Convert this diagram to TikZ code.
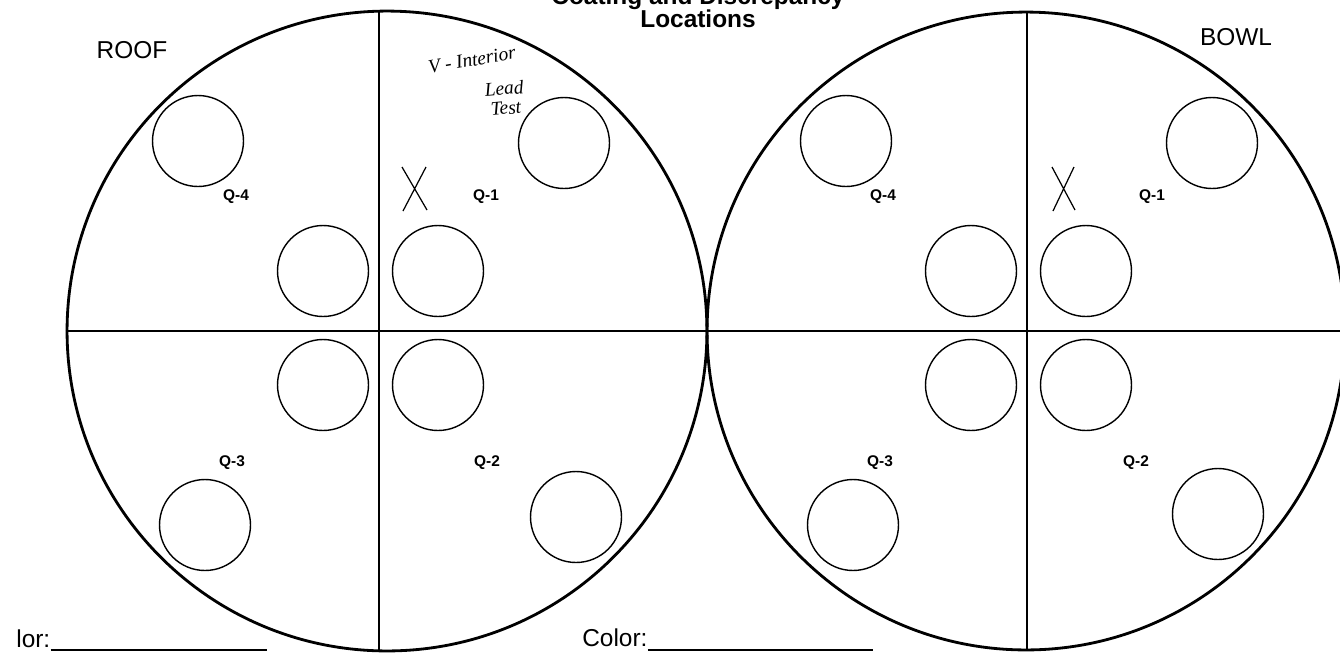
\documentclass[tikz,border=0pt]{standalone}
\usepackage{fontspec}
\setmainfont{Liberation Sans}
\newfontfamily\handfont{Liberation Serif}
\begin{document}
\begin{tikzpicture}[x=0.02cm, y=-0.02cm,
  disc/.style={circle, draw, line width=1.6pt, inner sep=0pt, minimum size=#1},
  hole/.style={circle, draw, line width=0.8pt, inner sep=0pt, minimum size=1.82cm},
  quad/.style={font=\bfseries\fontsize{8.8}{10}\selectfont, inner sep=0pt},
  big/.style={font=\fontsize{13.9}{16}\selectfont, inner sep=0pt},
  heading/.style={font=\bfseries\fontsize{13.9}{16}\selectfont, inner sep=0pt, anchor=base},
  hand/.style={font=\handfont\itshape\fontsize{11}{11}\selectfont, inner sep=0pt}]
  \useasboundingbox (0,0) rectangle (1340,664);
  \clip (0,0) rectangle (1340,664);
  % the two plates
  \node[disc=12.8cm] (roof) at (387,331) {};
  \node[disc=12.76cm] (bowl) at (1026,331) {};
  % quadrant lines
  \coordinate (roofT) at (379,11);  \coordinate (roofB) at (379,651);
  \coordinate (bowlT) at (1027,12); \coordinate (bowlB) at (1027,650);
  \draw[line width=1.1pt] (roofT) -- (roofB);
  \draw[line width=1.1pt] (bowlT) -- (bowlB);
  \draw[line width=1.1pt] (roof.west) -- (bowl.east);
  % holes
  \foreach \n/\x/\y in {ra/198/141, rb/564/143, rc/323/271, rd/438/271,
                        re/323/385, rf/438/385, rg/205/525, rh/576/517,
                        ba/846/141, bb/1212/143, bc/971/271, bd/1086/271,
                        be/971/385, bf/1086/385, bg/853/525, bh/1218/514}
    \node[hole] (h-\n) at (\x,\y) {};
  % quadrant labels
  \foreach \n/\q/\x/\y in {r4/4/236/197, r1/1/486/197, r3/3/232/463, r2/2/487/463,
                           b4/4/883/197, b1/1/1152/197, b3/3/880/463, b2/2/1136/463}
    \node[quad] (q-\n) at (\x,\y) {Q-\q};
  % marks
  \draw[line width=0.7pt] (402,167) -- (427,210) (426,167) -- (403,211);
  \draw[line width=0.7pt] (1052,167) -- (1075,210) (1074,167) -- (1053,211);
  % handwritten note
  \node[hand, rotate=10] (note1) at (472,60) {V - Interior};
  \node[hand, rotate=5, align=center] (note2) at (505,98) {Lead\\Test};
  % titles
  \node[heading] (title1) at (698,4) {Coating and Discrepancy};
  \node[heading] (title2) at (698,27) {Locations};
  \node[big, anchor=base] (rooflbl) at (132,58) {ROOF};
  \node[big, anchor=base] (bowllbl) at (1236,45) {BOWL};
  % blanks
  \node[big, anchor=base west] (lor) at (16,647) {lor:};
  \coordinate (lorEnd) at (267,650);
  \draw[line width=0.8pt] (lor.base east |- lorEnd) -- (lorEnd);
  \node[big, anchor=base west] (color) at (582,646) {Color:};
  \coordinate (colorEnd) at (873,650);
  \draw[line width=0.8pt] (color.base east |- colorEnd) -- (colorEnd);
\end{tikzpicture}
\end{document}
